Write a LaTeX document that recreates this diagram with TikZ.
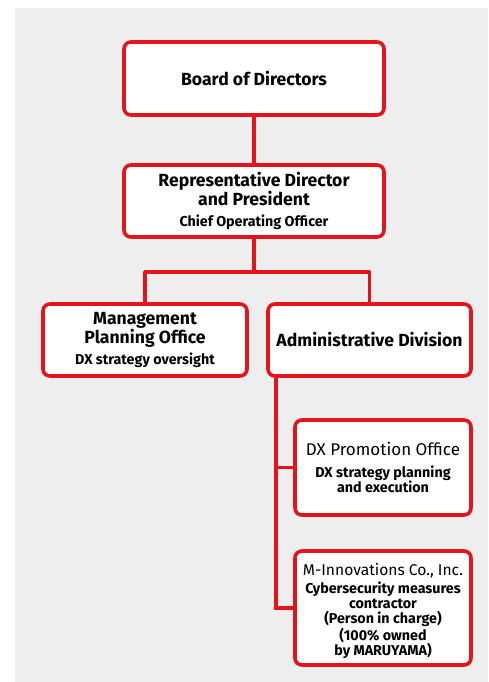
\documentclass[tikz,border=0pt]{standalone}
\usepackage{fontspec}
\setmainfont{Fira Sans}
\definecolor{redline}{HTML}{E3141B}
\definecolor{bgc}{HTML}{EEEEEE}
\newcommand{\bigf}{\fontsize{17.6}{17}\selectfont\bfseries}
\newcommand{\titf}{\fontsize{17}{17}\selectfont\mdseries}
\newcommand{\titn}{\fontsize{15.6}{17}\selectfont\mdseries}
\newcommand{\subf}{\fontsize{14.3}{15}\selectfont\bfseries}
\begin{document}
\begin{tikzpicture}[x=1pt,y=-1pt,
  box/.style={draw=redline, line width=3.6pt, rounded corners=7pt, fill=white,
    inner sep=0pt, align=center, text=black},
  conn/.style={draw=redline, line width=3.6pt},
]
\useasboundingbox (0,0) rectangle (488,682);
\fill[bgc] (15,8) rectangle (488,682);
\node[box, font=\bigf, minimum width=260pt, minimum height=73pt] (board) at (254,78.5) {Board of Directors};
\node[box, font=\bigf, minimum width=260pt, minimum height=72pt] (rep) at (254,201)
  {Representative Director\\and President\\[4pt]{\subf Chief Operating Officer}};
\node[box, font=\bigf, minimum width=204pt, minimum height=72pt] (mgmt) at (145,340)
  {Management\\Planning Office\\[4pt]{\subf DX strategy oversight}};
\node[box, font=\bigf, minimum width=203pt, minimum height=72pt] (admin) at (369.5,340)
  {Administrative Division};
\node[box, font=\subf, minimum width=176pt, minimum height=95pt, text depth=0pt] (dx) at (383,467.5)
  {{\titf DX Promotion Office}\\[7pt]DX strategy planning\\and execution};
\node[box, font=\subf, minimum width=176pt, minimum height=114pt] (minn) at (383,608) {};
\node[font=\subf, align=center, inner sep=0pt, anchor=center] (minntext) at (383,611)
  {{\titn M-Innovations Co., Inc.}\\[3pt]Cybersecurity measures\\contractor\\(Person in charge)\\(100\% owned\\by MARUYAMA)};
\coordinate (spine) at (276,0);
\coordinate (fork) at (254,272);
\draw[conn] (board.south) -- (rep.north);
\draw[conn] (rep.south) -- (fork);
\draw[conn, line join=round] (mgmt.north) |- (fork) -| (admin.north);
\draw[conn] (admin.south -| spine) |- (minn.west);
\draw[conn] (spine |- dx.west) -- (dx.west);
\end{tikzpicture}
\end{document}
